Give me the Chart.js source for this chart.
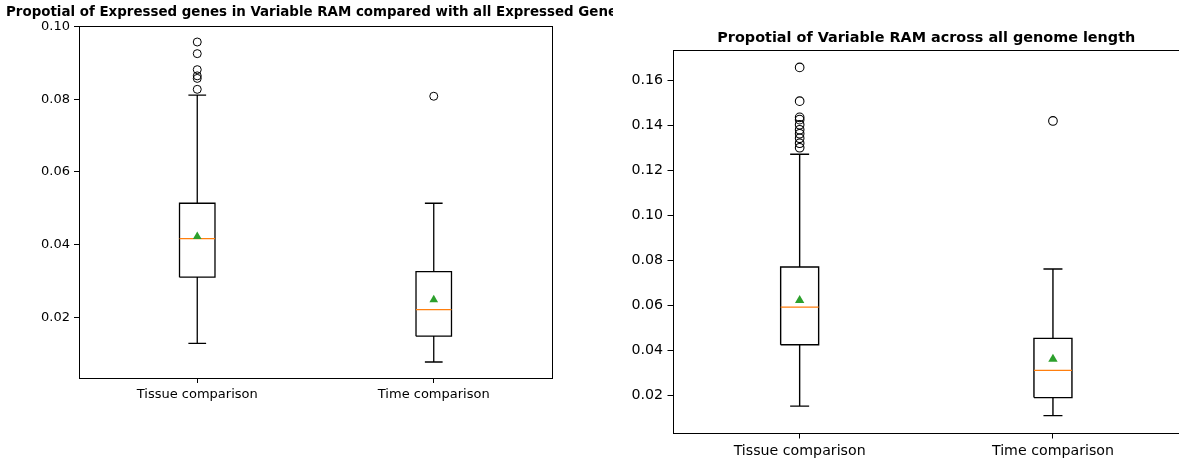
<!DOCTYPE html>
<html>
<head>
<meta charset="utf-8">
<script src="https://cdn.jsdelivr.net/npm/chart.js@4.4.1/dist/chart.umd.min.js"></script>
<style>
  body { margin: 0; background: #fff; width: 1179px; height: 461px; overflow: hidden; position: relative; }
  .panel { position: absolute; top: 0; height: 461px; overflow: hidden; }
  #left-panel { left: 0; width: 613px; }
  #right-panel { left: 613px; width: 566px; }
</style>
</head>
<body>
<div class="panel" id="left-panel"><canvas id="exprChart" width="613" height="461"></canvas></div>
<div class="panel" id="right-panel"><canvas id="genomeChart" width="572" height="461"></canvas></div>
<script>
const categories = ["Tissue comparison", "Time comparison"];
const positions = [1, 2];

// left panel: expressed genes in variable RAM / all expressed genes
const exprTitle = "Propotial of Expressed genes in Variable RAM compared with all Expressed Genes";
const exprWhiskerLow = [0.0129, 0.0078];
const exprQ1 = [0.0311, 0.0149];
const exprMedian = [0.0417, 0.0222];
const exprQ3 = [0.0514, 0.0326];
const exprWhiskerHigh = [0.0811, 0.0514];
const exprMean = [0.0423, 0.0249];
const exprOutliers = [
  [0.0957, 0.0925, 0.0881, 0.0864, 0.0857, 0.0827],
  [0.0808]
];
const exprTicks = [0.02, 0.04, 0.06, 0.08, 0.10];

// right panel: variable RAM / genome length
const genomeTitle = "Propotial of Variable RAM across all genome length";
const genomeWhiskerLow = [0.0152, 0.0110];
const genomeQ1 = [0.0425, 0.0190];
const genomeMedian = [0.0592, 0.0311];
const genomeQ3 = [0.0770, 0.0453];
const genomeWhiskerHigh = [0.1271, 0.0761];
const genomeMean = [0.0622, 0.0361];
const genomeOutliers = [
  [0.1657, 0.1507, 0.1435, 0.1425, 0.1402, 0.1380, 0.1362, 0.1342, 0.1320, 0.1300],
  [0.1419]
];
const genomeTicks = [0.02, 0.04, 0.06, 0.08, 0.10, 0.12, 0.14, 0.16];

const boxWidth = 0.15;
const fontFamily = "'DejaVu Sans', sans-serif";

// frame + title drawn relative to the chart area (matplotlib style)
const framePlugin = {
  id: "frame",
  afterDraw(chart, args, opts) {
    const { ctx, chartArea } = chart;
    ctx.save();
    ctx.strokeStyle = "#000";
    ctx.lineWidth = 1;
    ctx.strokeRect(Math.round(chartArea.left) + 0.5, Math.round(chartArea.top) + 0.5,
      Math.round(chartArea.right - chartArea.left), Math.round(chartArea.bottom - chartArea.top));
    ctx.fillStyle = "#000";
    ctx.font = "bold " + opts.size + "px " + fontFamily;
    ctx.textAlign = "center";
    ctx.textBaseline = "middle";
    ctx.fillText(opts.text, (chartArea.left + chartArea.right) / 2, chartArea.top - opts.gap);
    ctx.restore();
  }
};

function boxDatasets(lo, q1, med, q3, hi, mean, outliers, s) {
  const boxPts = [];
  const medPts = [];
  positions.forEach((p, i) => {
    const h = boxWidth / 2, c = boxWidth / 4;
    boxPts.push(
      { x: p - h, y: q1[i] }, { x: p + h, y: q1[i] }, { x: p + h, y: q3[i] },
      { x: p - h, y: q3[i] }, { x: p - h, y: q1[i] }, { x: p, y: null },
      { x: p, y: q1[i] }, { x: p, y: lo[i] }, { x: p, y: null },
      { x: p - c, y: lo[i] }, { x: p + c, y: lo[i] }, { x: p, y: null },
      { x: p, y: q3[i] }, { x: p, y: hi[i] }, { x: p, y: null },
      { x: p - c, y: hi[i] }, { x: p + c, y: hi[i] }, { x: p, y: null }
    );
    medPts.push({ x: p - h, y: med[i] }, { x: p + h, y: med[i] }, { x: p, y: null });
  });
  const flierPts = [];
  outliers.forEach((vals, i) => vals.forEach(v => flierPts.push({ x: positions[i], y: v })));
  return [
    { data: mean.map((v, i) => ({ x: positions[i], y: v })), pointStyle: "triangle", pointRadius: 5 * s,
      backgroundColor: "#2ca02c", borderColor: "#2ca02c", borderWidth: 0, order: 0 },
    { data: medPts, showLine: true, spanGaps: false, borderColor: "#ff7f0e", borderWidth: 1.3 * s,
      pointRadius: 0, order: 1 },
    { data: flierPts, pointStyle: "circle", pointRadius: 4 * s, backgroundColor: "rgba(0,0,0,0)",
      borderColor: "#000", borderWidth: 1 * s, order: 2 },
    { data: boxPts, showLine: true, spanGaps: false, borderColor: "#000", borderWidth: 1.3 * s,
      pointRadius: 0, order: 3 }
  ];
}

function makeChart(id, datasets, yTicks, vals, title, layout) {
  const span = Math.max(...vals) - Math.min(...vals);
  const tickFont = { family: fontFamily, size: layout.font };
  new Chart(document.getElementById(id), {
    type: "scatter",
    data: { datasets },
    options: {
      responsive: false,
      animation: false,
      events: [],
      layout: { padding: layout.padding },
      plugins: {
        legend: { display: false },
        tooltip: { enabled: false },
        frame: { text: title, gap: layout.gap, size: layout.titleSize }
      },
      scales: {
        x: {
          min: 0.5, max: 2.5,
          afterBuildTicks: s => { s.ticks = positions.map(v => ({ value: v })); },
          afterFit: s => { s.height = layout.xHeight; },
          ticks: { callback: (v, i) => categories[i], color: "#000", padding: layout.pad, maxRotation: 0,
            font: tickFont },
          grid: { drawOnChartArea: false, tickLength: layout.tick, color: "#000" },
          border: { display: false }
        },
        y: {
          min: Math.min(...vals) - span * 0.05,
          max: Math.max(...vals) + span * 0.05,
          afterBuildTicks: s => { s.ticks = yTicks.map(v => ({ value: v })); },
          afterFit: s => { s.width = layout.yWidth; },
          ticks: { callback: v => v.toFixed(2), color: "#000", padding: layout.pad, font: tickFont },
          grid: { drawOnChartArea: false, tickLength: layout.tick, color: "#000" },
          border: { display: false }
        }
      }
    },
    plugins: [framePlugin]
  });
}

const exprAll = exprOutliers.flat().concat(exprWhiskerLow, exprWhiskerHigh);
const genomeAll = genomeOutliers.flat().concat(genomeWhiskerLow, genomeWhiskerHigh);

makeChart("exprChart",
  boxDatasets(exprWhiskerLow, exprQ1, exprMedian, exprQ3, exprWhiskerHigh, exprMean, exprOutliers, 1),
  exprTicks, exprAll, exprTitle,
  { padding: { top: 26, right: 61, bottom: 0, left: 0 }, yWidth: 79, xHeight: 83,
    font: 13, titleSize: 13.4, gap: 13, tick: 5, pad: 4 });

makeChart("genomeChart",
  boxDatasets(genomeWhiskerLow, genomeQ1, genomeMedian, genomeQ3, genomeWhiskerHigh, genomeMean, genomeOutliers, 1.08),
  genomeTicks, genomeAll, genomeTitle,
  { padding: { top: 50, right: 4, bottom: 0, left: 0 }, yWidth: 60, xHeight: 28,
    font: 14.2, titleSize: 14.4, gap: 12, tick: 5.5, pad: 4.5 });
</script>
</body>
</html>
